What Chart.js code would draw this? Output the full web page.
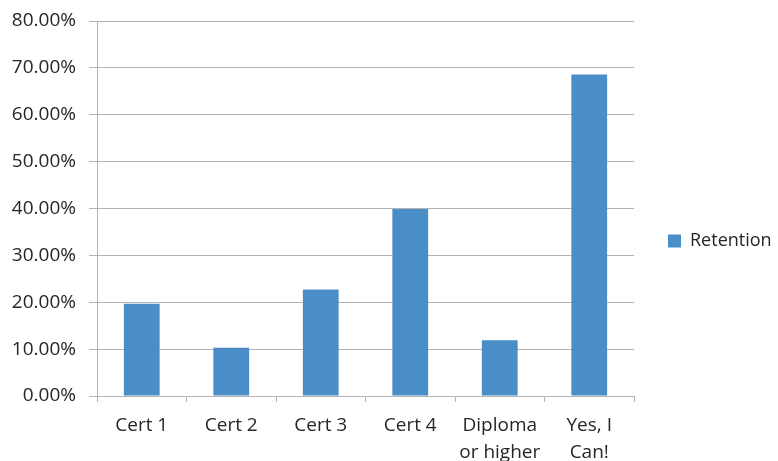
<!DOCTYPE html>
<html>
<head>
<meta charset="utf-8">
<script src="https://cdn.jsdelivr.net/npm/chart.js@4"></script>
<style>
  html, body { margin: 0; padding: 0; background: #fff; }
  #wrap { width: 778px; height: 461px; }
</style>
</head>
<body>
<div id="wrap"><canvas id="Chart1" width="778" height="461"></canvas></div>
<script>
var categories = ["Cert 1", "Cert 2", "Cert 3", "Cert 4", ["Diploma", "or higher"], ["Yes, I", "Can!"]];
var retention = [19.7, 10.3, 22.7, 39.9, 11.9, 68.6];
var seriesName = "Retention";

var gridColor = "#b3b3b3";
var textColor = "#262626";
var fontFamily = "'Open Sans', sans-serif";

// keep the legend column a fixed width so the plot ends at the same place
var legendWidth = {
  id: "legendWidth",
  afterInit: function (chart) {
    var fit = chart.legend.fit;
    chart.legend.fit = function () {
      fit.call(this);
      this.width = 144;
    };
  },
};

var data = {
  labels: categories,
  datasets: [
    {
      label: seriesName,
      data: retention,
      backgroundColor: "#4a8ec8",
      borderWidth: 0,
      categoryPercentage: 1,
      barPercentage: 0.4,
    },
  ],
};

var options = {
  responsive: false,
  animation: false,
  layout: {
    padding: { top: 21, right: 0, left: 0, bottom: 0 },
  },
  plugins: {
    tooltip: { enabled: false },
    legend: {
      position: "right",
      labels: {
        boxWidth: 13,
        boxHeight: 13,
        padding: 34,
        color: textColor,
        font: { family: fontFamily, size: 18 },
      },
    },
  },
  scales: {
    x: {
      afterFit: function (scale) {
        scale.height = 65;
      },
      grid: {
        offset: true,
        drawOnChartArea: false,
        color: gridColor,
        tickLength: 6,
      },
      border: { color: gridColor },
      ticks: {
        color: textColor,
        maxRotation: 0,
        padding: 10,
        font: { family: fontFamily, size: 19, lineHeight: 1.42 },
      },
    },
    y: {
      min: 0,
      max: 80,
      afterFit: function (scale) {
        scale.width = 97;
        scale.paddingTop = 0;
      },
      grid: {
        color: gridColor,
        tickLength: 8,
      },
      border: { color: gridColor },
      ticks: {
        stepSize: 10,
        color: textColor,
        padding: 13,
        font: { family: fontFamily, size: 19 },
        callback: function (v) {
          return v.toFixed(2) + "%";
        },
      },
    },
  },
};

var ctx = document.getElementById("Chart1").getContext("2d");
var myChart = new Chart(ctx, {
  type: "bar",
  data: data,
  options: options,
  plugins: [legendWidth],
});
</script>
</body>
</html>
